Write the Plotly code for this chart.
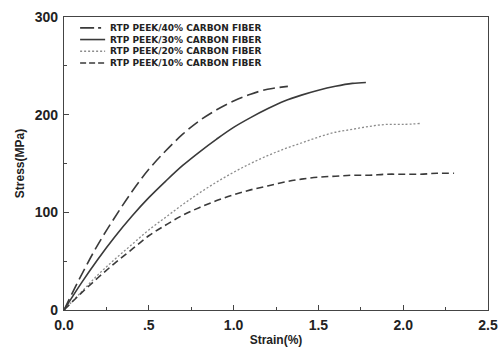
import plotly.graph_objects as go

names = ["RTP PEEK/40% CARBON FIBER", "RTP PEEK/30% CARBON FIBER",
         "RTP PEEK/20% CARBON FIBER", "RTP PEEK/10% CARBON FIBER"]

strain_40 = [0, 0.1, 0.2, 0.3, 0.4, 0.5, 0.6, 0.7, 0.8, 0.9, 1.0, 1.1, 1.2, 1.32]
stress_40 = [0, 35, 67, 95, 121, 144, 163, 180, 194, 205, 214, 221, 226, 229]

strain_30 = [0, 0.1, 0.2, 0.3, 0.4, 0.5, 0.6, 0.7, 0.8, 0.9, 1.0, 1.1, 1.2, 1.3, 1.4, 1.5, 1.6, 1.7, 1.78]
stress_30 = [0, 27, 52, 75, 96, 115, 132, 148, 162, 175, 187, 197, 206, 214, 220, 225, 229, 232, 233]

strain_20 = [0, 0.1, 0.2, 0.3, 0.4, 0.5, 0.6, 0.7, 0.8, 0.9, 1.0, 1.1, 1.2, 1.3, 1.4, 1.5, 1.6, 1.7, 1.8, 1.9, 2.0, 2.1]
stress_20 = [0, 18, 36, 52, 67, 82, 95, 108, 120, 131, 141, 150, 158, 165, 171, 177, 182, 185, 188, 190, 190, 191]

strain_10 = [0, 0.1, 0.2, 0.3, 0.4, 0.5, 0.6, 0.7, 0.8, 0.9, 1.0, 1.1, 1.2, 1.3, 1.4, 1.5, 1.6, 1.7, 1.8, 1.9, 2.0, 2.1, 2.2, 2.3]
stress_10 = [0, 17, 33, 48, 62, 76, 87, 97, 105, 112, 118, 123, 127, 131, 134, 136, 137, 138, 138, 139, 139, 139, 140, 140]

x_tickvals = [0, 0.5, 1.0, 1.5, 2.0, 2.5]
x_ticktext = ["0.0", ".5", "1.0", "1.5", "2.0", "2.5"]
y_tickvals = [0, 100, 200, 300]

FONT = "Arial, Liberation Sans, sans-serif"
DARK = "#3a3a3a"

styles = [
    dict(color=DARK, width=1.6, dash="12px,5px"),
    dict(color=DARK, width=1.6, dash="solid"),
    dict(color="#8c8c8c", width=1.3, dash="2px,2px"),
    dict(color=DARK, width=1.6, dash="7px,4px"),
]
legend_dash = ["14px,4px,3px,4px", "solid", "2px,2px", "6px,3px"]

data = [(strain_40, stress_40), (strain_30, stress_30), (strain_20, stress_20), (strain_10, stress_10)]

fig = go.Figure()
for (xs, ys), nm, ln in zip(data, names, styles):
    fig.add_trace(go.Scatter(x=xs, y=ys, name=nm, mode="lines",
                             line=dict(shape="spline", **ln), showlegend=False, hoverinfo="skip"))

# compact legend drawn in paper coordinates
LEG_FS = 9
plot_h = 354 - 17 - 44
leg_top_px = 4          # distance below plot top (px)
line_h = LEG_FS * 1.3
leg_x0, leg_x1, leg_tx = 0.038, 0.097, 0.104
for i, (ln, dsh) in enumerate(zip(styles, legend_dash)):
    yy = 1 - (leg_top_px + 1 + line_h * (i + 0.5)) / plot_h
    fig.add_shape(type="line", xref="paper", yref="paper", x0=leg_x0, x1=leg_x1, y0=yy, y1=yy,
                  line=dict(color=ln["color"], width=ln["width"], dash=dsh))
fig.add_annotation(xref="paper", yref="paper", x=leg_tx, y=1 - leg_top_px / plot_h,
                   text="<br>".join(names), showarrow=False, align="left",
                   xanchor="left", yanchor="top",
                   font=dict(family="DejaVu Sans", size=LEG_FS, color="#222", weight="bold"))

axis_common = dict(
    showline=True, linecolor="#444", linewidth=1.2, mirror=True,
    ticks="inside", ticklen=5, tickcolor="#444", showgrid=False, zeroline=False,
    tickfont=dict(family=FONT, size=14, color="#222", weight="bold"),
    automargin=False,
)

fig.update_layout(
    width=504, height=354,
    margin=dict(l=64, r=16, t=17, b=44),
    paper_bgcolor="white", plot_bgcolor="white",
    xaxis=dict(range=[0, 2.5], tickvals=x_tickvals, ticktext=x_ticktext, ticklabelstandoff=2,
               minor=dict(tickvals=[0.25, 0.75, 1.25, 1.75, 2.25], ticks="inside", ticklen=3, tickcolor="#444"),
               title=dict(text="Strain(%)", font=dict(family=FONT, size=12, color="#222", weight="bold"), standoff=3),
               **axis_common),
    yaxis=dict(range=[0, 300], tickvals=y_tickvals, ticklabelstandoff=2,
               minor=dict(tickvals=[50, 150, 250], ticks="inside", ticklen=3, tickcolor="#444"),
               title=dict(text="Stress(MPa)", font=dict(family=FONT, size=12, color="#222", weight="bold"), standoff=7),
               **axis_common),
    showlegend=False,
)

fig.write_html("out.html", config={"displayModeBar": False},
               post_script="document.body.style.margin='0';document.body.style.overflow='hidden';")
